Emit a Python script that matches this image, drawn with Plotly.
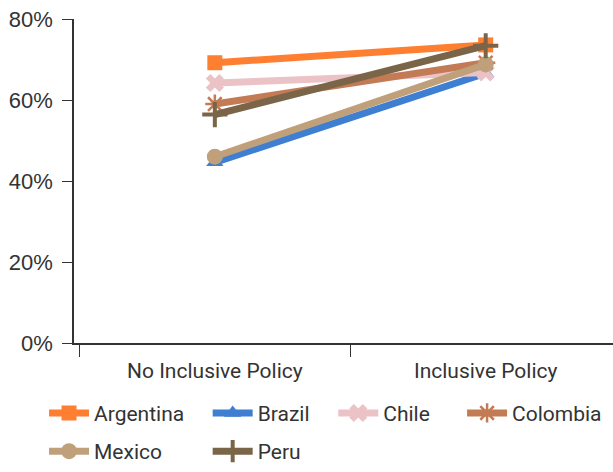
import plotly.graph_objects as go

categories = ["No Inclusive Policy", "Inclusive Policy"]
countries = ["Argentina", "Brazil", "Chile", "Colombia", "Mexico", "Peru"]
argentina = [69.2, 73.6]
brazil = [44.6, 66.6]
chile = [64.2, 66.8]
colombia = [59.0, 69.2]
mexico = [46.0, 68.8]
peru = [56.4, 73.4]
y_ticks = [0, 20, 40, 60, 80]
y_tick_labels = [f"{v}%" for v in y_ticks]

series = [argentina, brazil, chile, colombia, mexico, peru]
colors = ["#FF7F32", "#3F7FD2", "#EBC2C6", "#C37B55", "#BFA07A", "#7A6548"]
symbols = ["square", "triangle-up", "x", "asterisk-open", "circle", "cross-thin-open"]
sizes = [15, 15, 16, 16, 16, 18]
mlw = [0, 0, 0, 2.5, 0, 4]
legend_ids = ["legend", "legend2", "legend3", "legend4", "legend5", "legend6"]
legend_x = [-0.0556, 0.248, 0.481, 0.72, -0.0556, 0.248]
legend_y = [-0.217, -0.217, -0.217, -0.217, -0.336, -0.336]

fig = go.Figure()
for name, vals, c, s, sz, lw, lg in zip(countries, series, colors, symbols, sizes, mlw, legend_ids):
    fig.add_trace(go.Scatter(
        x=categories, y=vals, name=name, mode="lines+markers",
        line=dict(color=c, width=7),
        marker=dict(symbol=s, size=sz, color=c, line=dict(color=c, width=lw)),
        legend=lg,
    ))

font_family = "Roboto, sans-serif"
legend_layout = {}
for lg, lx, ly in zip(legend_ids, legend_x, legend_y):
    legend_layout[lg] = dict(orientation="h", xanchor="left", yanchor="middle", x=lx, y=ly,
                             itemwidth=40,
                             font=dict(family=font_family, size=21, color="#333333"),
                             bgcolor="rgba(0,0,0,0)")

fig.update_layout(
    width=613, height=472,
    margin=dict(l=74, r=0, t=19, b=121),
    plot_bgcolor="white", paper_bgcolor="white",
    font=dict(family=font_family, size=21, color="#333333"),
    showlegend=True,
    **legend_layout,
    xaxis=dict(type="category", showline=True, linecolor="#333333", linewidth=1.5,
               ticks="outside", tickson="boundaries", ticklen=12, tickcolor="#333333",
               ticklabelstandoff=8,
               showgrid=False, tickfont=dict(size=21, color="#333333"), range=[-0.52, 1.47],
               automargin=False),
    yaxis=dict(range=[0, 80], tickvals=y_ticks, ticktext=y_tick_labels, showline=True,
               linecolor="#333333", linewidth=1.5, ticks="outside", ticklen=10,
               ticklabelstandoff=5, ticklabeloverflow="allow",
               tickcolor="#333333", showgrid=False, zeroline=False, automargin=False,
               tickfont=dict(family="Liberation Sans, Arial, sans-serif", size=22, color="#333333")),
)
page_fix = (
    "var h=document.documentElement, b=document.body;"
    "h.style.margin='0';h.style.padding='0';h.style.overflow='hidden';h.style.height='472px';"
    "b.style.margin='0';b.style.padding='0';b.style.overflow='hidden';b.style.height='472px';"
)
fig.write_html("out.html", config={"displayModeBar": False}, post_script=page_fix)
